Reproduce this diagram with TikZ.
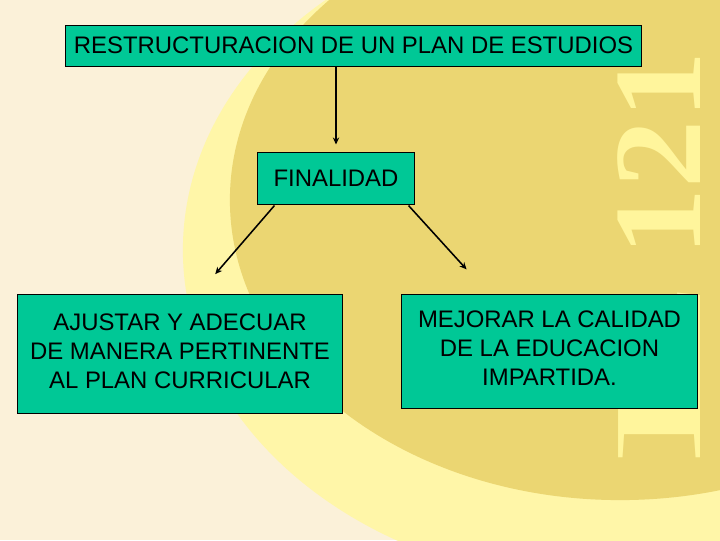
\documentclass[tikz,border=0pt]{standalone}
\usepackage{fontspec}
\setmainfont{Liberation Sans}
\newfontfamily\markfont{Liberation Serif}
\usetikzlibrary{arrows.meta,calc}
\definecolor{boxgreen}{HTML}{00C896}
\definecolor{paper}{HTML}{FBF1D9}
\definecolor{glow}{HTML}{FFF6A8}
\definecolor{disc}{HTML}{EBD672}
\definecolor{markyellow}{HTML}{FFF59C}

\begin{document}
\begin{tikzpicture}[x=0.025cm, y=-0.025cm]
        \tikzstyle{every node}=[rectangle, fill=boxgreen, draw=black, line width=0.7pt, inner sep=0pt, font=\fontsize{17}{20.6}\selectfont, text=black]
        \tikzstyle{link}=[black, line width=1.1pt, -{Stealth[length=5pt, width=4.5pt]}]

        \useasboundingbox (0,0) rectangle (720,540);
        \fill[paper] (0,0) rectangle (720,540);
        \begin{scope}
            \clip (0,0) rectangle (720,540);
            \fill[glow] (610,250) ellipse [x radius=10.675cm, y radius=8.375cm];
            \fill[disc] (620,200) ellipse [x radius=9.75cm, y radius=7.5cm];
        \end{scope}
        \node[fill=none, draw=none, text=markyellow, rotate=90, anchor=base west, font=\markfont\bfseries\fontsize{89}{89}\selectfont] (mark) at (700,463) {\scalebox{2.2}[1]{E}\hspace{16pt}\scalebox{1.09}[1]{121}};

        \node[minimum width=14.375cm, minimum height=1.025cm] (plan)    at (353.5,45.5) {RESTRUCTURACION DE UN PLAN DE ESTUDIOS};
        \node[minimum width=3.9cm,    minimum height=1.3cm]   (fin)     at (336,178)    {FINALIDAD};
        \node[minimum width=8.1cm,    minimum height=2.975cm] (ajustar) at (180,353.5)  {\begin{tabular}{@{}c@{}} AJUSTAR Y ADECUAR \\ DE MANERA PERTINENTE \\ AL PLAN CURRICULAR \end{tabular}};
        \node[minimum width=7.375cm,  minimum height=2.85cm]  (mejorar) at (549.5,351)  {\begin{tabular}{@{}c@{}} MEJORAR LA CALIDAD \\ DE LA EDUCACION \\ IMPARTIDA. \end{tabular}};

        \draw[link, shorten >=0.175cm] (plan.south -| fin.north) -- (fin.north);
        \draw[link, shorten >=0.64cm]  ($(fin.south west)+(17,1)$) -- ($(ajustar.north west)+(181,0)$);
        \draw[link, shorten >=0.815cm] ($(fin.south east)+(-6,1)$) -- ($(mejorar.north west)+(87,0)$);
\end{tikzpicture}
\end{document}
